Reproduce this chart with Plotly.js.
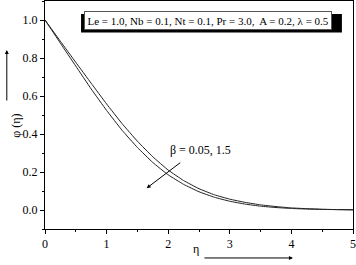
<!DOCTYPE html>
<html>
<head>
<meta charset="utf-8">
<script src="https://cdn.plot.ly/plotly-3.0.1.min.js"></script>
<style>html,body{margin:0;padding:0;background:#fff;}#chart{width:356px;height:265px;}</style>
</head>
<body>
<div id="chart"></div>
<script>
var eta = [0, 0.25, 0.5, 0.75, 1.0, 1.25, 1.5, 1.75, 2.0, 2.25, 2.5, 2.75, 3.0, 3.25, 3.5, 3.75, 4.0, 4.25, 4.5, 4.75, 5.0];
var phiUpper = [1.0, 0.888, 0.777, 0.667, 0.558, 0.455, 0.362, 0.280, 0.210, 0.155, 0.112, 0.080, 0.057, 0.040, 0.027, 0.018, 0.011, 0.007, 0.004, 0.002, 0.001];
var phiLower = [1.0, 0.878, 0.757, 0.637, 0.524, 0.420, 0.329, 0.250, 0.185, 0.135, 0.096, 0.067, 0.046, 0.031, 0.020, 0.013, 0.008, 0.005, 0.003, 0.002, 0.001];
var xTicks = [0, 1, 2, 3, 4, 5];
var yTicks = [0.0, 0.2, 0.4, 0.6, 0.8, 1.0];
var yTickText = ['0.0', '0.2', '0.4', '0.6', '0.8', '1.0'];
var paramText = 'Le = 1.0, Nb = 0.1, Nt = 0.1, Pr = 3.0,  A = 0.2, λ = 0.5';
var betaText = 'β = 0.05, 1.5';

var FAM = 'Liberation Serif';
var font = {family: FAM, size: 12, color: '#000'};
var lineStyle = {color: '#222', width: 1, shape: 'spline', smoothing: 0.3};

var traces = [
  {x: eta, y: phiUpper, mode: 'lines', line: lineStyle, hoverinfo: 'skip'},
  {x: eta, y: phiLower, mode: 'lines', line: lineStyle, hoverinfo: 'skip'}
];

var axisCommon = {
  showgrid: false, zeroline: false, showline: true, linecolor: '#000', linewidth: 1,
  mirror: true, ticks: 'outside', ticklen: 4, tickwidth: 1, tickcolor: '#000',
  tickfont: font
};

var layout = {
  width: 356, height: 265,
  margin: {l: 45, r: 3, t: 1, b: 36},
  paper_bgcolor: '#fff', plot_bgcolor: '#fff',
  showlegend: false,
  font: font,
  xaxis: Object.assign({}, axisCommon, {
    range: [0, 5], tickvals: xTicks,
    minor: {dtick: 0.5, ticks: 'outside', ticklen: 2, tickcolor: '#000'}
  }),
  yaxis: Object.assign({}, axisCommon, {
    range: [-0.1, 1.1], tickvals: yTicks, ticktext: yTickText,
    minor: {dtick: 0.1, ticks: 'outside', ticklen: 2, tickcolor: '#000'}
  }),
  shapes: [
    {type: 'rect', xref: 'paper', yref: 'paper', x0: 0.117, x1: 0.964, y0: 0.862, y1: 0.943,
     fillcolor: '#000', line: {width: 0}, layer: 'above'}
  ],
  annotations: [
    {x: 2.654, y: 0.998, xref: 'x', yref: 'y', text: paramText, showarrow: false,
     font: {family: FAM, size: 11, color: '#000'}, bgcolor: '#fff', bordercolor: '#555',
     borderwidth: 1, borderpad: 2.5},
    {x: 2.52, y: 0.316, xref: 'x', yref: 'y', text: betaText, showarrow: false,
     font: {family: FAM, size: 12, color: '#000'}},
    {x: 1.65, y: 0.115, xref: 'x', yref: 'y', ax: 2.22, ay: 0.255, axref: 'x', ayref: 'y',
     text: '', showarrow: true, arrowhead: 2, arrowsize: 0.8, arrowwidth: 1, arrowcolor: '#000'},
    {x: -0.124, y: 0.452, xref: 'paper', yref: 'paper', text: 'φ (η)', textangle: -90,
     showarrow: false, font: {family: FAM, size: 12, color: '#000'}},
    {x: -0.124, y: 0.785, xref: 'paper', yref: 'paper', ax: 0, ay: 52, text: '',
     showarrow: true, arrowhead: 2, arrowsize: 0.8, arrowwidth: 1, arrowcolor: '#000'},
    {x: 0.490, y: -0.127, xref: 'paper', yref: 'paper', text: 'η', showarrow: false,
     font: {family: FAM, size: 12, color: '#000'}},
    {x: 0.805, y: -0.127, xref: 'paper', yref: 'paper', ax: -90, ay: 0, text: '',
     showarrow: true, arrowhead: 2, arrowsize: 0.8, arrowwidth: 1, arrowcolor: '#000'}
  ]
};

Plotly.newPlot('chart', traces, layout, {staticPlot: true, displayModeBar: false});
</script>
</body>
</html>
